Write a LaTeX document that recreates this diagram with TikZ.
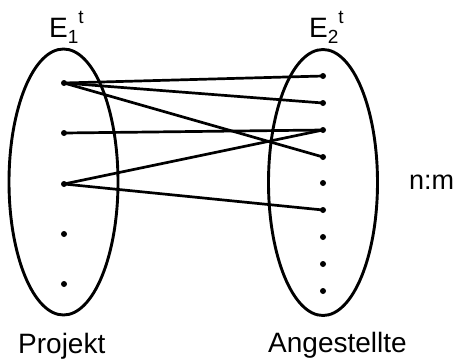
\documentclass[tikz,border=0pt]{standalone}
\usepackage{fontspec}
\setmainfont{Liberation Sans}
\usetikzlibrary{shapes.geometric}
\begin{document}
\begin{tikzpicture}[x=1pt,y=-1pt,
  setellipse/.style={draw,line width=2.9pt,ellipse,minimum width=109pt,minimum height=266pt,inner sep=0pt},
  elem/.style={circle,fill,inner sep=0pt,minimum size=6pt},
  conn/.style={line width=2.7pt,line cap=round},
  lbl/.style={anchor=base west,inner sep=0pt,font=\fontsize{28}{30}\selectfont}]
\useasboundingbox (0,0) rectangle (458,359);
\node[setellipse] (E1) at (63.5,182) {};
\node[setellipse] (E2) at (323,182.5) {};
% left elements
\node[elem] (l1) at (64,83) {};
\node[elem] (l2) at (64,133) {};
\node[elem] (l3) at (64,184) {};
\node[elem] (l4) at (64,234) {};
\node[elem] (l5) at (64,284) {};
% right elements
\node[elem] (r1) at (323,76) {};
\node[elem] (r2) at (323,103) {};
\node[elem] (r3) at (323,130) {};
\node[elem] (r4) at (323,157) {};
\node[elem] (r5) at (323,183) {};
\node[elem] (r6) at (323,210) {};
\node[elem] (r7) at (323,237) {};
\node[elem] (r8) at (323,264) {};
\node[elem] (r9) at (323,291) {};
% connectors
\draw[conn] (l1.center) -- (r1.center);
\draw[conn] (l1.center) -- (r2.center);
\draw[conn] (l1.center) -- (r4.center);
\draw[conn] (l2.center) -- (r3.center);
\draw[conn] (l3.center) -- (r3.center);
\draw[conn] (l3.center) -- (r6.center);
% labels
\node[lbl] (t1) at (49,37) {E\raisebox{-6pt}{\fontsize{19}{19}\selectfont 1}\raisebox{14pt}{\fontsize{19}{19}\selectfont t}};
\node[lbl] (t2) at (309,37) {E\raisebox{-6pt}{\fontsize{19}{19}\selectfont 2}\raisebox{14pt}{\fontsize{19}{19}\selectfont t}};
\node[lbl] (p) at (18,353) {Projekt};
\node[lbl] (a) at (268,352) {Angestellte};
\node[lbl,font=\fontsize{27}{29}\selectfont] (nm) at (409,189) {n:m};
\end{tikzpicture}
\end{document}
